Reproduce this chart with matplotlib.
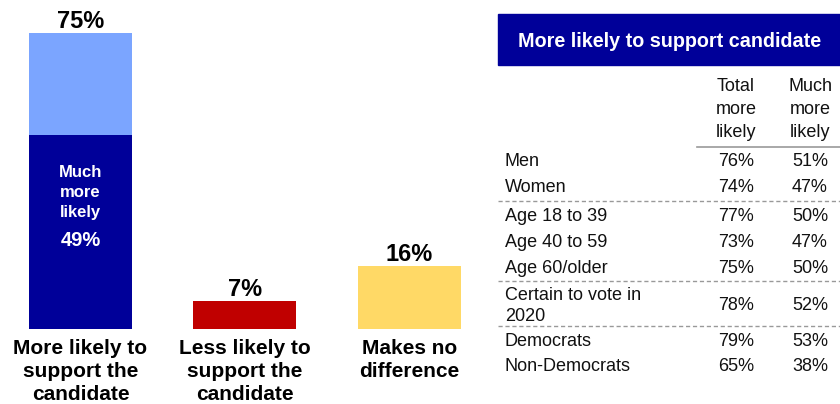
import matplotlib.pyplot as plt

plt.rcParams['font.family'] = ['Liberation Sans', 'DejaVu Sans']

# bar chart data
categories = ['More likely to\nsupport the\ncandidate', 'Less likely to\nsupport the\ncandidate',
              'Makes no\ndifference']
totals = [75, 7, 16]
much_more = 49

# table data
table_title = 'More likely to support candidate'
col_headers = ['Total\nmore\nlikely', 'Much\nmore\nlikely']
row_labels = ['Men', 'Women', 'Age 18 to 39', 'Age 40 to 59', 'Age 60/older',
              'Certain to vote in\n2020', 'Democrats', 'Non-Democrats']
total_more = [76, 74, 77, 73, 75, 78, 79, 65]
much_more_rows = [51, 47, 50, 47, 50, 52, 53, 38]

W, H = 840, 404
fig = plt.figure(figsize=(W / 100, H / 100), dpi=100)

# ---- bars ----
bar_bottom = 329
px_per_pct = 3.95
ymax = 80
ax = fig.add_axes([0, (H - bar_bottom) / H, 493.5 / W, ymax * px_per_pct / H])
x = [0, 1, 2]
w = 103 / 164.5
colors = ['#7BA5FF', '#C00000', '#FFD966']
ax.bar(x, totals, width=w, color=colors)
ax.bar(x[0], much_more, width=w, color='#000099')
ax.set_xlim(-0.489, 2.511)
ax.set_ylim(0, ymax)
for xi, v in zip(x, totals):
    ax.text(xi, v + 1.3, f'{v}%', ha='center', va='baseline', fontsize=17, fontweight='bold')
ax.text(x[0], much_more * 0.705, 'Much\nmore\nlikely', ha='center', va='center', color='white',
        fontsize=12, fontweight='bold', linespacing=1.45)
ax.text(x[0], much_more * 0.455, f'{much_more}%', ha='center', va='center', color='white',
        fontsize=14.5, fontweight='bold')
ax.set_xticks(x)
ax.set_xticklabels(categories, fontsize=15, fontweight='bold', linespacing=1.27)
ax.tick_params(axis='x', length=0, pad=7)
ax.set_yticks([])
for s in ax.spines.values():
    s.set_visible(False)

# ---- table ----
tx = fig.add_axes([0, 0, 1, 1])
tx.set_xlim(0, W)
tx.set_ylim(H, 0)
tx.axis('off')

tx.add_patch(plt.Rectangle((498, 14), W - 498, 51, color='#000099'))
tx.text(670, 41.5, table_title, ha='center', va='center', color='white',
        fontsize=14.2, fontweight='bold')

col_x = [736, 810]
for cx, h in zip(col_x, col_headers):
    tx.text(cx, 109.5, h, ha='center', va='center', fontsize=13, color='#111111', linespacing=1.45)
tx.plot([697, W], [147, 147], color='#999999', lw=1.2)

row_y = [162, 188, 216.5, 242.5, 268.5, 306, 341, 366.5]
for y, lab, t, m in zip(row_y, row_labels, total_more, much_more_rows):
    tx.text(505, y, lab, ha='left', va='center', fontsize=13, color='#111111', linespacing=1.35)
    tx.text(col_x[0], y, f'{t}%', ha='center', va='center', fontsize=13, color='#111111')
    tx.text(col_x[1], y, f'{m}%', ha='center', va='center', fontsize=13, color='#111111')

for y in [201, 281, 326]:
    tx.plot([498, W], [y, y], color='#999999', lw=1, linestyle=(0, (3, 2)))

fig.savefig('out.png', dpi=100)
